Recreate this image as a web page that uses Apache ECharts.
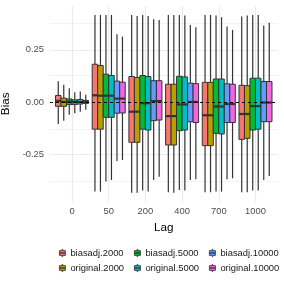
<!DOCTYPE html>
<html><head><meta charset="utf-8">
<script src="https://cdn.jsdelivr.net/npm/echarts@6/dist/echarts.min.js"></script>
<style>html,body{margin:0;padding:0;background:#fff}#c{width:284px;height:284px}</style>
</head><body><div id="c"></div>
<script>
// Categories (lags)
const lags = ['0', '50', '200', '400', '700', '1000'];
const seriesNames = ['biasadj.2000', 'original.2000', 'biasadj.5000', 'original.5000', 'biasadj.10000', 'original.10000'];
const colors = ['#F8766D', '#B79F00', '#00BA38', '#00BFC4', '#619CFF', '#F564E3'];
const yTicks = [-0.25, 0, 0.25];
const yMinor = [-0.375, -0.125, 0.125, 0.375];

// [min, Q1, median, Q3, max] per lag
const biasadj2000 = [
  [-0.106, -0.021, 0.005, 0.031, 0.099],
  [-0.431, -0.131, 0.032, 0.181, 0.418],
  [-0.436, -0.194, -0.047, 0.122, 0.418],
  [-0.434, -0.207, -0.068, 0.085, 0.418],
  [-0.434, -0.210, -0.064, 0.094, 0.418],
  [-0.434, -0.180, -0.058, 0.080, 0.410]
];
const original2000 = [
  [-0.090, -0.021, 0.000, 0.018, 0.082],
  [-0.431, -0.131, 0.030, 0.175, 0.418],
  [-0.436, -0.194, -0.047, 0.117, 0.413],
  [-0.436, -0.207, -0.068, 0.085, 0.418],
  [-0.434, -0.210, -0.064, 0.094, 0.418],
  [-0.434, -0.175, -0.058, 0.078, 0.415]
];
const biasadj5000 = [
  [-0.062, -0.013, 0.001, 0.014, 0.066],
  [-0.383, -0.074, 0.030, 0.133, 0.418],
  [-0.426, -0.131, -0.006, 0.127, 0.418],
  [-0.423, -0.138, -0.012, 0.123, 0.418],
  [-0.431, -0.151, -0.022, 0.110, 0.415],
  [-0.426, -0.135, -0.020, 0.114, 0.418]
];
const original5000 = [
  [-0.054, -0.012, 0.000, 0.010, 0.047],
  [-0.375, -0.074, 0.030, 0.127, 0.418],
  [-0.431, -0.135, -0.006, 0.122, 0.413],
  [-0.426, -0.135, -0.012, 0.120, 0.415],
  [-0.431, -0.154, -0.022, 0.110, 0.407],
  [-0.426, -0.131, -0.020, 0.114, 0.418]
];
const biasadj10000 = [
  [-0.047, -0.010, 0.000, 0.012, 0.050],
  [-0.284, -0.054, 0.016, 0.100, 0.325],
  [-0.375, -0.090, 0.004, 0.102, 0.397],
  [-0.375, -0.095, 0.000, 0.090, 0.370],
  [-0.372, -0.099, -0.010, 0.087, 0.362],
  [-0.375, -0.095, -0.003, 0.098, 0.367]
];
const original10000 = [
  [-0.038, -0.007, 0.000, 0.007, 0.034],
  [-0.279, -0.053, 0.016, 0.095, 0.314],
  [-0.359, -0.087, 0.004, 0.102, 0.394],
  [-0.372, -0.099, 0.000, 0.088, 0.359],
  [-0.367, -0.099, -0.010, 0.085, 0.346],
  [-0.356, -0.095, -0.003, 0.098, 0.381]
];
const allStats = [biasadj2000, original2000, biasadj5000, original5000, biasadj10000, original10000];

const GROUP = 0.9;
const NS = seriesNames.length;
const STROKE = '#333333';

function makeRender(k) {
  return function (params, api) {
    const x = api.value(0);
    const unit = api.size([1, 0])[0];
    const gw = unit * GROUP;
    const bw = gw / NS;
    const cx = api.coord([x, 0])[0] - gw / 2 + (k + 0.5) * bw;
    const yMin = api.coord([x, api.value(1)])[1];
    const yQ1 = api.coord([x, api.value(2)])[1];
    const yMed = api.coord([x, api.value(3)])[1];
    const yQ3 = api.coord([x, api.value(4)])[1];
    const yMax = api.coord([x, api.value(5)])[1];
    const color = colors[k];
    return {
      type: 'group',
      children: [
        { type: 'line', shape: { x1: cx, y1: yMax, x2: cx, y2: yQ3 }, style: { stroke: STROKE, lineWidth: 1.2 } },
        { type: 'line', shape: { x1: cx, y1: yQ1, x2: cx, y2: yMin }, style: { stroke: STROKE, lineWidth: 1.2 } },
        { type: 'rect', shape: { x: cx - bw / 2, y: yQ3, width: bw, height: yQ1 - yQ3 }, style: { fill: color, stroke: STROKE, lineWidth: 1 } },
        { type: 'line', shape: { x1: cx - bw / 2, y1: yMed, x2: cx + bw / 2, y2: yMed }, style: { stroke: STROKE, lineWidth: 2.2 } }
      ]
    };
  };
}

const boxSeries = seriesNames.map((name, k) => ({
  name: name,
  type: 'custom',
  z: 3,
  itemStyle: { color: colors[k] },
  renderItem: makeRender(k),
  encode: { x: 0, y: [1, 2, 3, 4, 5] },
  data: allStats[k].map((s, i) => [i].concat(s))
}));

const gridSeries = {
  name: 'grid',
  type: 'line',
  data: [],
  silent: true,
  z: 1,
  markLine: {
    silent: true, symbol: 'none', z: 1, animation: false,
    label: { show: false },
    data: [
      ...yMinor.map(v => ({ yAxis: v, lineStyle: { color: '#EBEBEB', width: 0.6, type: 'solid' } })),
      ...yTicks.map(v => ({ yAxis: v, lineStyle: { color: '#EBEBEB', width: 1.1, type: 'solid' } })),
      ...lags.map((l, i) => ({ xAxis: i, lineStyle: { color: '#EBEBEB', width: 1.1, type: 'solid' } }))
    ]
  }
};
const zeroSeries = {
  name: 'zero',
  type: 'line',
  data: [],
  silent: true,
  z: 10,
  markLine: {
    silent: true, symbol: 'none', z: 10, animation: false,
    label: { show: false },
    data: [{ yAxis: 0, lineStyle: { color: '#000000', width: 1, type: [3, 3] } }]
  }
};

const iconPath = 'path://M4.4,0L5.6,0L5.6,2L10,2L10,6L0,6L0,2L4.4,2Z M0,6L10,6L10,10L5.6,10L5.6,12L4.4,12L4.4,10L0,10Z';
function legendCol(names, left) {
  return {
    orient: 'vertical', left: left, top: 243, itemWidth: 6, itemHeight: 8, itemGap: 5,
    icon: iconPath,
    itemStyle: { borderColor: STROKE, borderWidth: 0.8 },
    textStyle: { fontSize: 9.4, color: '#1a1a1a', fontFamily: 'Liberation Sans', lineHeight: 10, padding: [0, 0, 0, 0] },
    data: names
  };
}

const chart = echarts.init(document.getElementById('c'), null, { renderer: 'canvas' });
chart.setOption({
  animation: false,
  backgroundColor: '#ffffff',
  grid: { left: 50, right: 6.5, top: 6, bottom: 82.4, containLabel: false, outerBoundsMode: 'none' },
  legend: [
    legendCol(['biasadj.2000', 'original.2000'], 54),
    legendCol(['biasadj.5000', 'original.5000'], 129),
    legendCol(['biasadj.10000', 'original.10000'], 204)
  ],
  xAxis: {
    type: 'value', min: -0.6, max: 5.6,
    name: 'Lag', nameLocation: 'middle', nameGap: 20,
    nameTextStyle: { fontSize: 11.7, color: '#000', fontFamily: 'Liberation Sans' },
    axisLine: { show: false }, axisTick: { show: false }, splitLine: { show: false },
    axisLabel: { customValues: [0, 1, 2, 3, 4, 5], formatter: v => lags[Math.round(v)], fontSize: 9.4, color: '#4D4D4D', margin: 5.5, fontFamily: 'Liberation Sans' }
  },
  yAxis: {
    type: 'value', min: -0.479, max: 0.461,
    name: 'Bias', nameLocation: 'middle', nameGap: 32, nameRotate: 90,
    nameTextStyle: { fontSize: 11.7, color: '#000', fontFamily: 'Liberation Sans' },
    axisLine: { show: false }, axisTick: { show: false }, splitLine: { show: false },
    axisLabel: { customValues: yTicks, formatter: v => v.toFixed(2), fontSize: 9.4, color: '#4D4D4D', margin: 6, fontFamily: 'Liberation Sans' }
  },
  series: [gridSeries, ...boxSeries, zeroSeries]
});
</script></body></html>
